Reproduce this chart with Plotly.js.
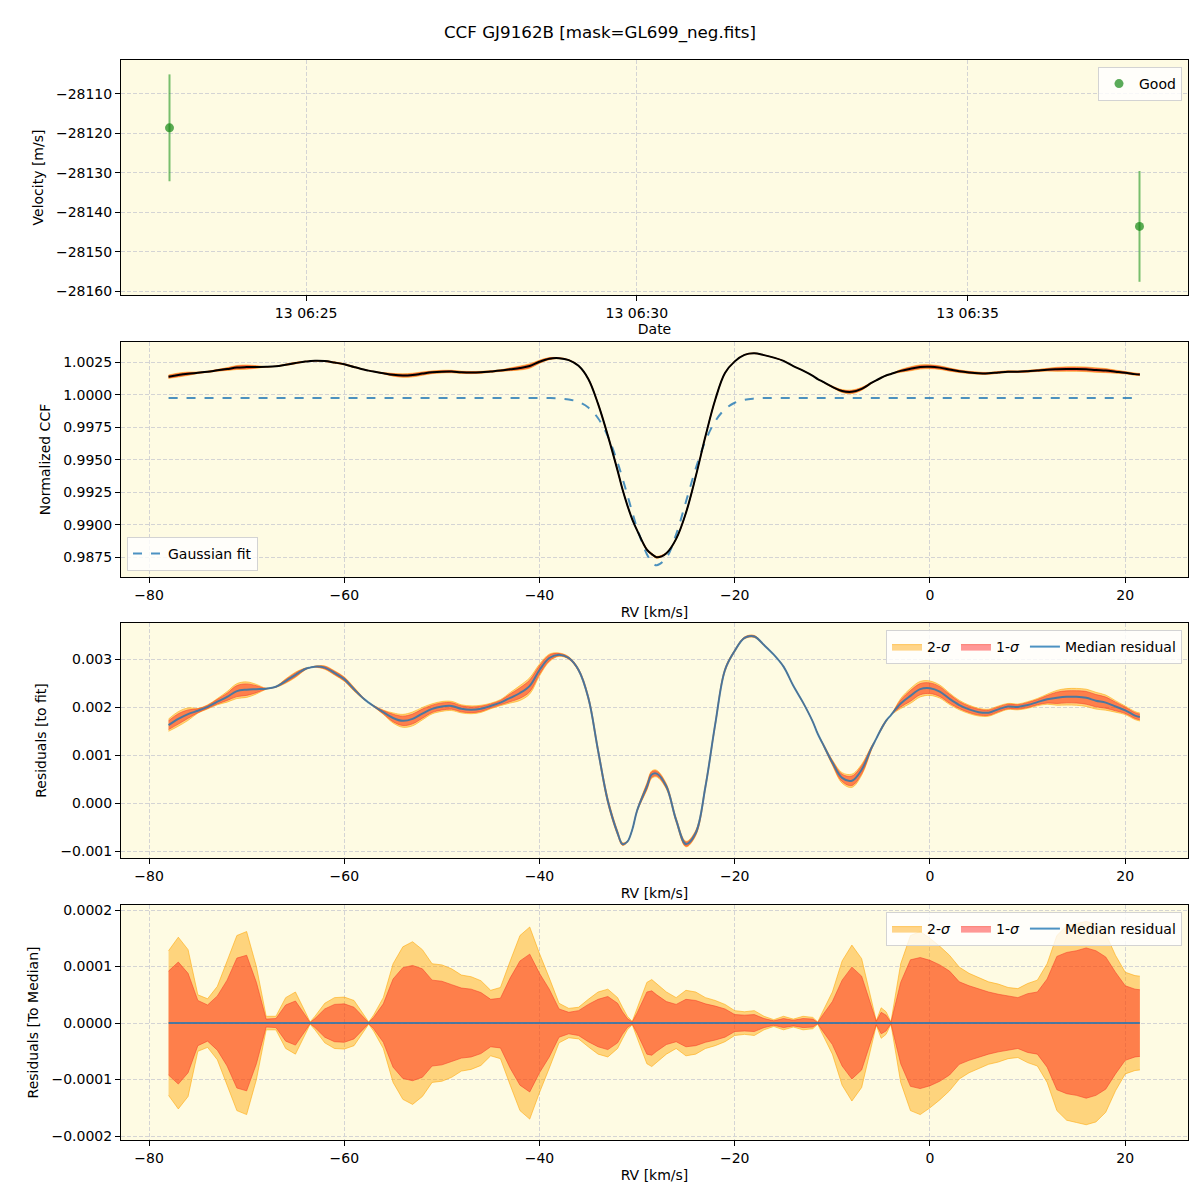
<!DOCTYPE html>
<html><head><meta charset="utf-8">
<script src="https://cdn.plot.ly/plotly-3.0.1.min.js"></script>
<style>html,body{margin:0;padding:0;background:#fff}#chart{width:1200px;height:1200px}</style>
</head><body><div id="chart"></div>
<script>
// ---- Panel 1: RV time series ----
const obsDates = ['2023-08-13 06:22:56', '2023-08-13 06:37:36'];
const obsVel = [-28118.6, -28143.6];
const obsErr = [13.55, 14.05];

// ---- RV grid (km/s) ----
const rv = [-78,-77,-76,-75,-74,-73,-72,-71,-70,-69,-68,-67,-66,-65,-64,
  -63.5,-63,-62,-61,-60,-59,-58,-57.5,
  -57,-56,-55,-54,-53,-52,-51,-50,-49,-48,-47,-46,-45,-44,-43,-42,-41,-40,-39,-38,-37,-36,-35,-34,-33,-32,
  -31.5,-31,-30.5,-30,-29,-28.5,
  -28,-27,-26,-25,-24,-23,-22,-21,-20,-19,-18,-17,-16,-15,-14,-13,-12,
  -11.5,-11,-10,-9,-8,-7,-6,-5.5,-5,-4.5,
  -4,-3,-2,-1,0,1,2,3,4,5,6,7,8,9,10,11,12,13,14,15,16,17,18,19,20,21,21.5];

// Normalized CCF (median)
const ccf = [1.00138,1.00151,1.00161,1.00168,1.00176,1.00187,1.00197,1.00209,1.00212,1.00213,1.00214,1.00218,1.00230,1.00243,1.00255,
  1.00258,1.00260,1.00258,1.00247,1.00234,1.00213,1.00193,1.00185,
  1.00178,1.00165,1.00153,1.00147,1.00151,1.00162,1.00172,1.00177,1.00178,1.00172,1.00170,1.00172,1.00178,1.00185,1.00195,1.00205,1.00220,1.00253,1.00277,1.00281,1.00266,1.00222,1.00121,0.99929,0.99685,0.99416,
  0.99272,0.99149,0.99042,0.98957,0.98808,0.98774,
  0.98750,0.98781,0.98891,0.99091,0.99370,0.99680,0.99961,1.00166,1.00256,1.00306,1.00318,1.00304,1.00285,1.00260,1.00220,1.00185,1.00145,
  1.00120,1.00100,1.00060,1.00028,1.00022,1.00045,1.00090,1.00110,1.00130,1.00147,
  1.00159,1.00183,1.00199,1.00213,1.00215,1.00208,1.00193,1.00180,1.00171,1.00165,1.00164,1.00171,1.00177,1.00176,1.00180,1.00186,1.00192,1.00195,1.00197,1.00197,1.00195,1.00189,1.00185,1.00177,1.00169,1.00158,1.00155];

// Gaussian fit
const gaussFit = [0.99975,0.99975,0.99975,0.99975,0.99975,0.99975,0.99975,0.99975,0.99975,0.99975,0.99975,0.99975,0.99975,0.99975,0.99975,
  0.99975,0.99975,0.99975,0.99975,0.99975,0.99975,0.99975,0.99975,
  0.99975,0.99975,0.99975,0.99975,0.99975,0.99975,0.99975,0.99975,0.99975,0.99975,0.99975,0.99975,0.99975,0.99975,0.99975,0.99975,0.99975,0.99975,0.99974,0.99971,0.99963,0.99944,0.99901,0.99819,0.99680,0.99478,
  0.99357,0.99229,0.99097,0.98972,0.98773,0.98714,
  0.98688,0.98746,0.98926,0.99176,0.99432,0.99645,0.99796,0.99888,0.99938,0.99961,0.99970,0.99974,0.99975,0.99975,0.99975,0.99975,0.99975,
  0.99975,0.99975,0.99975,0.99975,0.99975,0.99975,0.99975,0.99975,0.99975,0.99975,
  0.99975,0.99975,0.99975,0.99975,0.99975,0.99975,0.99975,0.99975,0.99975,0.99975,0.99975,0.99975,0.99975,0.99975,0.99975,0.99975,0.99975,0.99975,0.99975,0.99975,0.99975,0.99975,0.99975,0.99975,0.99975,0.99975,0.99975];

// Median residual to fit (units of 1e-3)
const residMedianE3 = [1.63,1.76,1.86,1.93,2.01,2.12,2.22,2.34,2.37,2.38,2.39,2.43,2.55,2.68,2.80,
  2.83,2.85,2.83,2.72,2.59,2.38,2.18,2.10,
  2.03,1.90,1.78,1.72,1.76,1.87,1.97,2.02,2.03,1.97,1.95,1.97,2.03,2.10,2.20,2.30,2.45,2.78,3.03,3.10,3.03,2.78,2.20,1.10,0.05,-0.62,
  -0.85,-0.80,-0.55,-0.15,0.35,0.60,
  0.62,0.35,-0.35,-0.85,-0.62,0.35,1.65,2.78,3.18,3.45,3.48,3.30,3.10,2.85,2.45,2.10,1.70,
  1.45,1.25,0.85,0.53,0.47,0.70,1.15,1.35,1.55,1.72,
  1.84,2.08,2.24,2.38,2.40,2.33,2.18,2.05,1.96,1.90,1.89,1.96,2.02,2.01,2.05,2.11,2.17,2.20,2.22,2.22,2.20,2.14,2.10,2.02,1.94,1.83,1.80];

// 1-sigma half width of residuals around median (units of 1e-4)
const sigma1E4 = [0.92,1.08,0.88,0.40,0.32,0.48,0.76,1.15,1.20,0.72,0.07,0.08,0.32,0.39,0.14,
  0.01,0.08,0.25,0.33,0.34,0.28,0.10,0.01,
  0.10,0.34,0.78,0.98,1.02,0.96,0.76,0.74,0.68,0.62,0.60,0.54,0.42,0.44,0.80,1.10,1.22,0.88,0.60,0.25,0.19,0.22,0.33,0.42,0.47,0.35,
  0.20,0.08,0.02,0.18,0.55,0.57,
  0.50,0.38,0.33,0.42,0.40,0.34,0.30,0.25,0.15,0.14,0.15,0.08,0.04,0.08,0.05,0.08,0.07,
  0.01,0.14,0.38,0.76,0.99,0.83,0.30,0.03,0.19,0.14,
  0.01,0.72,1.12,1.16,1.11,1.03,0.92,0.73,0.66,0.60,0.55,0.51,0.48,0.45,0.52,0.55,0.78,1.18,1.25,1.28,1.33,1.28,1.17,0.90,0.66,0.60,0.59];

// 2-sigma half width (units of 1e-4)
const sigma2E4 = [1.28,1.52,1.30,0.50,0.43,0.65,1.10,1.55,1.62,1.00,0.12,0.12,0.45,0.55,0.20,
  0.02,0.12,0.35,0.45,0.46,0.40,0.15,0.02,
  0.14,0.45,1.05,1.35,1.44,1.30,1.05,1.03,0.96,0.85,0.82,0.75,0.58,0.63,1.10,1.55,1.70,1.23,0.80,0.35,0.26,0.28,0.42,0.55,0.60,0.45,
  0.28,0.12,0.03,0.25,0.72,0.77,
  0.70,0.55,0.45,0.58,0.55,0.45,0.40,0.33,0.22,0.20,0.22,0.12,0.06,0.12,0.07,0.12,0.10,
  0.02,0.20,0.55,1.10,1.38,1.14,0.40,0.04,0.27,0.20,
  0.02,1.05,1.55,1.62,1.50,1.36,1.20,0.99,0.88,0.80,0.73,0.69,0.63,0.61,0.70,0.76,1.05,1.55,1.72,1.76,1.80,1.75,1.58,1.20,0.90,0.84,0.83];

const medianToMedian = [0, 0];
const medianToMedianRV = [rv[0], rv[rv.length - 1]];

// ---- derived series ----
const resid = residMedianE3.map(v => v * 1e-3);
const s1 = sigma1E4.map(v => v * 1e-4);
const s2 = sigma2E4.map(v => v * 1e-4);
const band = (base, w, k) => base.map((v, i) => v + k * w[i]);

const BG = '#fefbe3';
const F2 = 'rgba(255,165,0,0.45)', L2 = 'rgba(255,165,0,0.55)';
const F1 = 'rgba(255,0,0,0.40)', L1 = 'rgba(245,60,40,0.55)';
const BLUE = 'rgba(31,119,180,0.8)';
const FONT = 'DejaVu Sans';

function bands(base, xa, ya, legendName, showLeg, shape) {
  const sh = shape || 'linear';
  const common = {x: rv, xaxis: xa, yaxis: ya, mode: 'lines', hoverinfo: 'skip'};
  return [
    Object.assign({}, common, {y: band(base, s2, -1), line: {color: L2, width: 1, shape: sh}, showlegend: false, fill: 'none'}),
    Object.assign({}, common, {y: band(base, s2, 1), line: {color: L2, width: 1, shape: sh}, fill: 'tonexty', fillcolor: F2,
      name: '2-<i>σ</i>', showlegend: showLeg, legend: legendName}),
    Object.assign({}, common, {y: band(base, s1, -1), line: {color: L1, width: 1, shape: sh}, showlegend: false, fill: 'none'}),
    Object.assign({}, common, {y: band(base, s1, 1), line: {color: L1, width: 1, shape: sh}, fill: 'tonexty', fillcolor: F1,
      name: '1-<i>σ</i>', showlegend: showLeg, legend: legendName}),
  ];
}

const traces = [];
// Panel 1
traces.push({
  x: obsDates, y: obsVel, xaxis: 'x', yaxis: 'y', mode: 'markers', name: 'Good', legend: 'legend',
  marker: {color: 'rgba(20,135,20,0.7)', size: 9},
  error_y: {type: 'data', array: obsErr, visible: true, color: 'rgba(30,150,30,0.6)', thickness: 2, width: 0}
});
// Panel 2
traces.push(...bands(ccf, 'x2', 'y2', 'legend2', false, 'spline'));
traces.push({x: rv, y: gaussFit, xaxis: 'x2', yaxis: 'y2', mode: 'lines', name: 'Gaussian fit', legend: 'legend2',
  line: {color: BLUE, width: 2, dash: 'dash', shape: 'spline'}});
traces.push({x: rv, y: ccf, xaxis: 'x2', yaxis: 'y2', mode: 'lines', showlegend: false,
  line: {color: '#000', width: 2, shape: 'spline'}});
// Panel 3
traces.push(...bands(resid, 'x3', 'y3', 'legend3', true, 'spline'));
traces.push({x: rv, y: resid, xaxis: 'x3', yaxis: 'y3', mode: 'lines', name: 'Median residual', legend: 'legend3',
  line: {color: BLUE, width: 2, shape: 'spline'}});
// Panel 4
traces.push(...bands(rv.map(() => 0), 'x4', 'y4', 'legend4', true, 'linear'));
traces.push({x: medianToMedianRV, y: medianToMedian, xaxis: 'x4', yaxis: 'y4', mode: 'lines', name: 'Median residual', legend: 'legend4',
  line: {color: BLUE, width: 2}});

const XD = [121/1200, 1188/1200];
const axBase = {
  showline: true, linecolor: '#000', linewidth: 1, mirror: true,
  ticks: 'outside', ticklen: 5, tickcolor: '#000', tickwidth: 1,
  showgrid: true, gridcolor: '#d4d4d4', griddash: '4px,2px', gridwidth: 1,
  zeroline: false, automargin: false,
  tickfont: {family: FONT, size: 14, color: '#000'}
};
const ax = (o) => Object.assign({}, axBase, o);
const ttl = (t, s) => ({text: t, font: {family: FONT, size: 14, color: '#000'}, standoff: s});
const RVR = [-82.87, 26.43];

const legBase = {bgcolor: 'rgba(255,255,255,0.8)', bordercolor: '#d3d3d3', borderwidth: 1, traceorder: 'normal',
  font: {family: FONT, size: 14, color: '#000'}};

const layout = {
  width: 1200, height: 1200,
  margin: {l: 0, r: 0, t: 0, b: 0},
  paper_bgcolor: '#fff', plot_bgcolor: BG,
  font: {family: FONT, size: 14, color: '#000'},
  title: {text: 'CCF GJ9162B [mask=GL699_neg.fits]', x: 0.5, xanchor: 'center', y: 1 - 32/1200, yanchor: 'middle',
    font: {family: FONT, size: 16.7, color: '#000'}},
  xaxis: ax({domain: XD, anchor: 'y', type: 'date', range: ['2023-08-13 06:22:12', '2023-08-13 06:38:20'],
    tick0: '2023-08-13 06:25:00', dtick: 300000, tickformat: '%d %H:%M', title: ttl('Date', 4)}),
  yaxis: ax({domain: [1 - 295/1200, 1 - 60/1200], anchor: 'x', range: [-28161.0, -28101.4], dtick: 10, tickformat: 'd',
    title: ttl('Velocity [m/s]', 9)}),
  xaxis2: ax({domain: XD, anchor: 'y2', range: RVR, dtick: 20, tick0: 0, title: ttl('RV [km/s]', 5)}),
  yaxis2: ax({domain: [1 - 577/1200, 1 - 342/1200], anchor: 'x2', range: [0.98598, 1.00405], dtick: 0.0025, tick0: 1,
    tickformat: '.4f', title: ttl('Normalized CCF', 9)}),
  xaxis3: ax({domain: XD, anchor: 'y3', range: RVR, dtick: 20, tick0: 0, title: ttl('RV [km/s]', 5)}),
  yaxis3: ax({domain: [1 - 858/1200, 1 - 623/1200], anchor: 'x3', range: [-0.00114, 0.00376], dtick: 0.001, tick0: 0,
    tickformat: '.3f', title: ttl('Residuals [to fit]', 10)}),
  xaxis4: ax({domain: XD, anchor: 'y4', range: RVR, dtick: 20, tick0: 0, title: ttl('RV [km/s]', 5)}),
  yaxis4: ax({domain: [1 - 1140/1200, 1 - 905/1200], anchor: 'x4', range: [-0.000207, 0.000209], dtick: 0.0001, tick0: 0,
    tickformat: '.4f', title: ttl('Residuals [To Median]', 9)}),
  legend: Object.assign({}, legBase, {x: 1182/1200, xanchor: 'right', y: 1 - 67/1200, yanchor: 'top'}),
  legend2: Object.assign({}, legBase, {x: 127/1200, xanchor: 'left', y: 1 - 571/1200, yanchor: 'bottom'}),
  legend3: Object.assign({}, legBase, {orientation: 'h', x: 1182/1200, xanchor: 'right', y: 1 - 630/1200, yanchor: 'top'}),
  legend4: Object.assign({}, legBase, {orientation: 'h', x: 1182/1200, xanchor: 'right', y: 1 - 912/1200, yanchor: 'top'}),
  showlegend: true
};

Plotly.newPlot('chart', traces, layout, {staticPlot: true, displayModeBar: false});
</script>
</body></html>
